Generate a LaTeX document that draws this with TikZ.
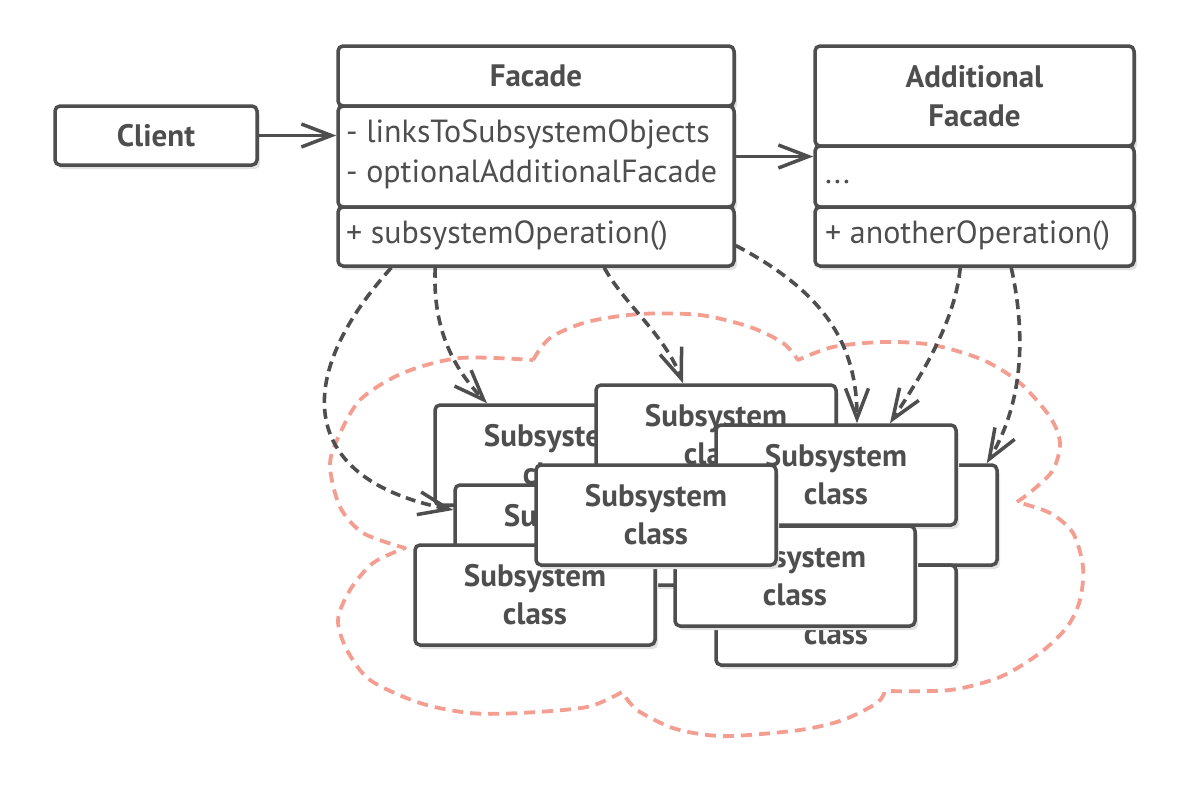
\documentclass[tikz,border=0pt]{standalone}
\usepackage{fontspec}
\setmainfont{PT Sans}
\usetikzlibrary{arrows.meta,shadows}
\definecolor{ink}{RGB}{78,78,78}
\definecolor{cloudc}{RGB}{243,158,144}
\definecolor{shade}{RGB}{226,226,226}
\begin{document}
\begin{tikzpicture}[x=1pt,y=-1pt,
  box/.style={draw=ink, line width=3.5pt, fill=white, rounded corners=5pt, text=ink, inner sep=0pt,
    drop shadow={shadow xshift=3pt, shadow yshift=-4pt, fill=shade, opacity=1}},
  sub/.style={box, minimum width=240pt, minimum height=100pt, align=center,
    font=\fontsize{31}{38}\selectfont\bfseries},
  ttl/.style={text=ink, align=center, font=\fontsize{31}{39}\selectfont\bfseries, inner sep=0pt},
  txt/.style={text=ink, font=\fontsize{32}{33}\selectfont, inner sep=0pt, anchor=west},
  tip/.style={-{Straight Barb[length=30pt,width=23pt,line width=3.5pt]}},
  assoc/.style={draw=ink, line width=3.5pt, tip},
  dep/.style={draw=ink, line width=3.6pt, dash pattern=on 10pt off 6pt, tip},
  cloudline/.style={draw=cloudc, line width=3.8pt, dash pattern=on 11pt off 7pt, line join=round}
]
\fill[white] (0,0) rectangle (1192,790);

% ---- cloud ----
\path[cloudline]
  plot[smooth] coordinates {(533,360) (550,338) (587,322) (640,314) (700,315) (750,327) (783,343) (798,360)}
  -- plot[smooth] coordinates {(798,360) (833,347) (883,342) (933,345) (983,360) (1020,383) (1050,417) (1060,443) (1053,470) (1033,490) (1017,502)}
  -- plot[smooth] coordinates {(1017,502) (1050,513) (1073,533) (1083,567) (1080,600) (1067,627) (1040,653) (1000,677) (950,690) (885,691)}
  -- plot[smooth] coordinates {(885,691) (877,703) (843,720) (800,730) (733,736) (700,734) (670,727) (637,710) (622,692)}
  -- plot[smooth] coordinates {(622,692) (587,707) (520,713) (470,713) (420,703) (370,680) (347,650) (338,620) (350,590) (373,563) (405,548)}
  -- plot[smooth] coordinates {(405,548) (363,533) (340,507) (330,467) (337,440) (360,400) (403,373) (460,358) (533,360)};

% ---- top classes ----
\node[box, minimum width=202pt, minimum height=59pt] (client) at (156,135.5) {};
\node[ttl] (clientT) at (client.center) {Client};

\node[box, minimum width=396pt, minimum height=60pt] (facH) at (536,76) {};
\node[box, minimum width=396pt, minimum height=101pt] (facA) at (536,156.5) {};
\node[box, minimum width=396pt, minimum height=59pt] (facM) at (536,236.5) {};
\node[ttl] (facT) at (facH.center) {Facade};
\node[txt] (facA1) at (346,134) {- linksToSubsystemObjects};
\node[txt] (facA2) at (346,174) {- optionalAdditionalFacade};
\node[txt] (facM1) at (346,236) {+ subsystemOperation()};

\node[box, minimum width=319pt, minimum height=100pt] (addH) at (974.5,96) {};
\node[box, minimum width=319pt, minimum height=61pt] (addA) at (974.5,176.5) {};
\node[box, minimum width=319pt, minimum height=59pt] (addM) at (974.5,236.5) {};
\node[ttl] (addT) at (addH.center) {Additional\\Facade};
\node[txt] (addA1) at (825,182) {...};
\node[txt] (addM1) at (825,236) {+ anotherOperation()};

% ---- subsystem classes ----
\node[sub] (A) at (555,455) {Subsystem\\class};
\node[sub] (B) at (716,435) {Subsystem\\class};
\node[sub] (C) at (575,535) {Subsystem\\class};
\node[sub] (D) at (535,595) {Subsystem\\class};
\node[sub] (G) at (877,515) {Subsystem\\class};
\node[sub] (F) at (836,475) {Subsystem\\class};
\node[sub] (I) at (836,615) {Subsystem\\class};
\node[sub] (H) at (795,576) {Subsystem\\class};
\node[sub] (E) at (656,515) {Subsystem\\class};

% ---- connectors ----
\draw[assoc] (client.east) -- (client.east -| facA.west);
\draw[assoc] (facA.east) -- (facA.east -| addA.west);

\draw[dep] ([xshift=55pt]facM.south west) .. controls (290,380) and (300,480) .. ([yshift=25pt]C.west);
\draw[dep] ([xshift=99pt]facM.south west) .. controls (432,330) and (455,370) .. ([xshift=-68pt]A.north);
\draw[dep] ([xshift=268pt]facM.south west) .. controls (625,305) and (665,335) .. ([xshift=-33pt]B.north);
\draw[dep] ([yshift=-9pt]facM.east) .. controls (820,290) and (857,340) .. ([xshift=21pt]F.north);
\draw[dep] ([xshift=147pt]addM.south west) .. controls (955,320) and (925,370) .. ([xshift=54pt]F.north);
\draw[dep] ([xshift=198pt]addM.south west) .. controls (1025,330) and (1025,400) .. ([xshift=-12pt]G.north east);
\end{tikzpicture}
\end{document}
